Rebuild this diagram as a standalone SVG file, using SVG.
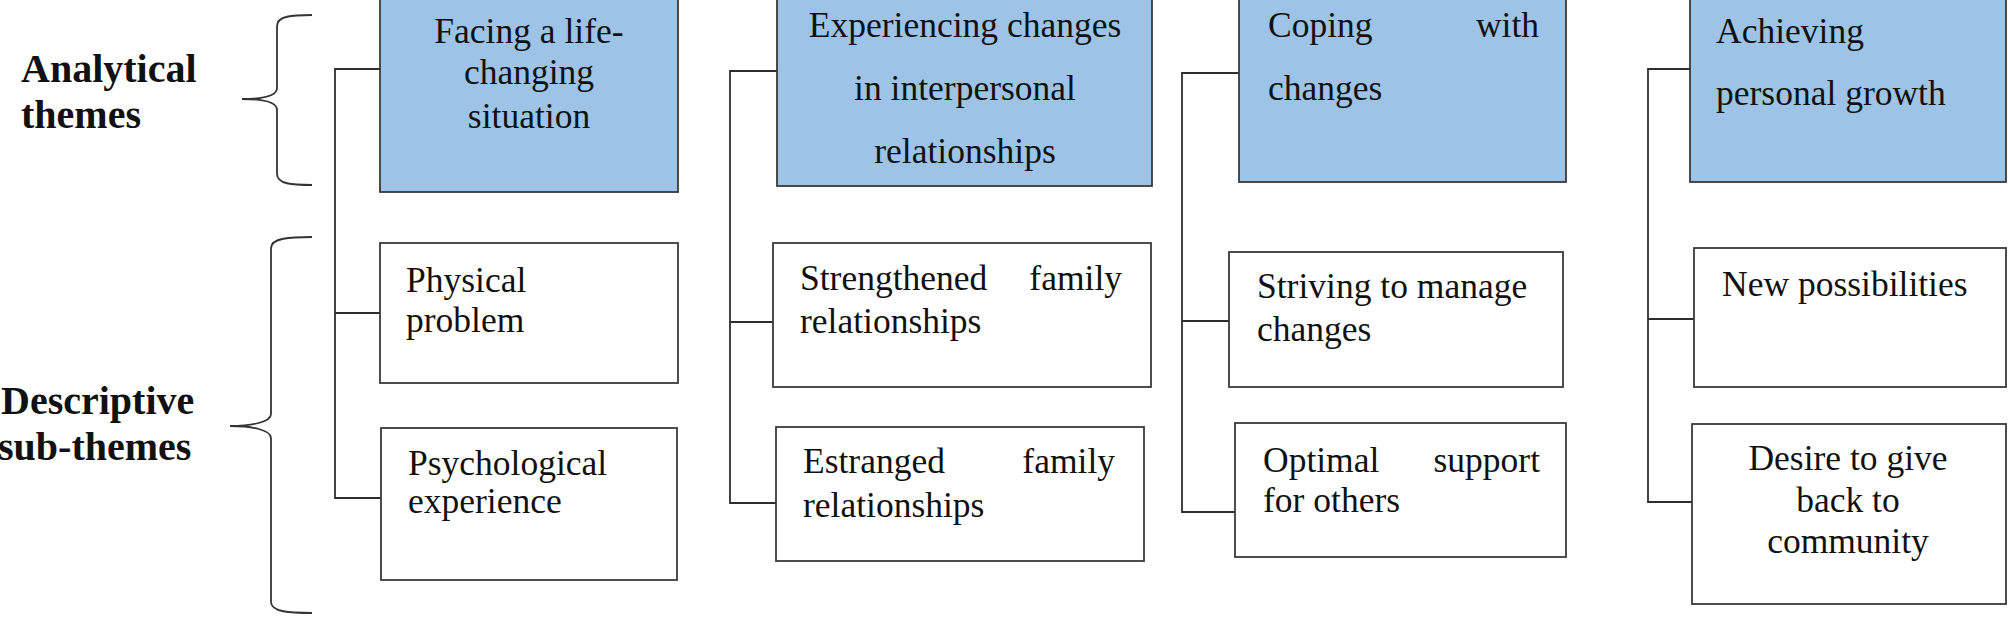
<svg xmlns="http://www.w3.org/2000/svg" width="2008" height="617" viewBox="0 0 2008 617">
<style>
.theme{fill:#9DC3E6;stroke:#3a3a3a;stroke-width:1.8}
.sub{fill:#ffffff;stroke:#3a3a3a;stroke-width:1.8}
.t{font-family:"Liberation Serif","Times New Roman",serif;font-size:35.5px;fill:#111}
.c{text-anchor:middle}
.e{text-anchor:end}
.h{font-family:"Liberation Serif","Times New Roman",serif;font-size:40px;font-weight:bold;fill:#111}
.ln{fill:none;stroke:#2e2e2e;stroke-width:1.8}
.br{fill:none;stroke:#333;stroke-width:1.8}
</style>
<rect width="2008" height="617" fill="#ffffff"/>
<g id="labels">
<text class="h" x="21" y="82">Analytical</text>
<text class="h" x="21" y="128">themes</text>
<text class="h" x="1" y="414">Descriptive</text>
<text class="h" x="-2" y="460">sub-themes</text>
</g>
<g id="braces">
<path class="br" d="M312,15 C292,15 277,16 277,26 L277,88 C277,96 262,99 242,99 C262,99 277,102 277,110 L277,174 C277,184 292,185 312,185"/>
<path class="br" d="M312,237 C290,237 271,238 271,248 L271,414 C271,422 252,426 230,426 C252,426 271,430 271,438 L271,602 C271,612 290,613 312,613"/>
</g>
<g id="connectors">
<path class="ln" d="M380,69 H335 V498 H381 M335,313 H380"/>
<path class="ln" d="M777,71 H730 V503 H776 M730,322 H773"/>
<path class="ln" d="M1239,73 H1182 V512 H1235 M1182,321 H1229"/>
<path class="ln" d="M1690,69 H1648 V502 H1692 M1648,319 H1694"/>
</g>
<g id="theme1">
<rect class="theme" x="380" y="-3" width="298" height="195"/>
<text class="t c" x="529" y="43">Facing a life-</text>
<text class="t c" x="529" y="84">changing</text>
<text class="t c" x="529" y="128">situation</text>
</g>
<g id="sub1a">
<rect class="sub" x="380" y="243" width="298" height="140"/>
<text class="t" x="406" y="292">Physical</text>
<text class="t" x="406" y="332">problem</text>
</g>
<g id="sub1b">
<rect class="sub" x="381" y="428" width="296" height="152"/>
<text class="t" x="408" y="475">Psychological</text>
<text class="t" x="408" y="513">experience</text>
</g>
<g id="theme2">
<rect class="theme" x="777" y="-3" width="375" height="189"/>
<text class="t c" x="965" y="37">Experiencing changes</text>
<text class="t c" x="965" y="100">in interpersonal</text>
<text class="t c" x="965" y="163">relationships</text>
</g>
<g id="sub2a">
<rect class="sub" x="773" y="243" width="378" height="144"/>
<text class="t" x="800" y="290">Strengthened</text>
<text class="t e" x="1122" y="290">family</text>
<text class="t" x="800" y="333">relationships</text>
</g>
<g id="sub2b">
<rect class="sub" x="776" y="427" width="368" height="134"/>
<text class="t" x="803" y="473">Estranged</text>
<text class="t e" x="1115" y="473">family</text>
<text class="t" x="803" y="517">relationships</text>
</g>
<g id="theme3">
<rect class="theme" x="1239" y="-3" width="327" height="185"/>
<text class="t" x="1268" y="37">Coping</text>
<text class="t e" x="1539" y="37">with</text>
<text class="t" x="1268" y="100">changes</text>
</g>
<g id="sub3a">
<rect class="sub" x="1229" y="252" width="334" height="135"/>
<text class="t" x="1257" y="298">Striving to manage</text>
<text class="t" x="1257" y="341">changes</text>
</g>
<g id="sub3b">
<rect class="sub" x="1235" y="423" width="331" height="134"/>
<text class="t" x="1263" y="472">Optimal</text>
<text class="t e" x="1540" y="472">support</text>
<text class="t" x="1263" y="512">for others</text>
</g>
<g id="theme4">
<rect class="theme" x="1690" y="-3" width="316" height="185"/>
<text class="t" x="1716" y="43">Achieving</text>
<text class="t" x="1716" y="105">personal growth</text>
</g>
<g id="sub4a">
<rect class="sub" x="1694" y="248" width="312" height="139"/>
<text class="t" x="1722" y="296">New possibilities</text>
</g>
<g id="sub4b">
<rect class="sub" x="1692" y="424" width="314" height="180"/>
<text class="t c" x="1848" y="470">Desire to give</text>
<text class="t c" x="1848" y="512">back to</text>
<text class="t c" x="1848" y="553">community</text>
</g>
</svg>
